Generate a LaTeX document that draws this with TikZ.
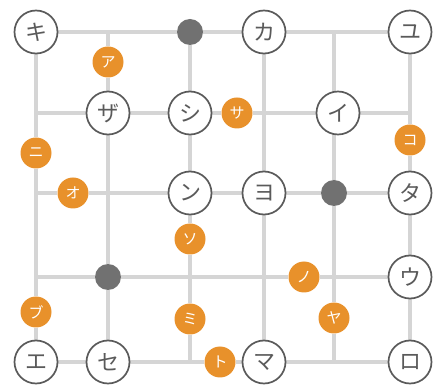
\documentclass[tikz,border=0pt]{standalone}
\usepackage{fontspec}
\newfontfamily\jp{Noto Sans CJK JP}
\usetikzlibrary{backgrounds}
\definecolor{lanegray}{HTML}{D5D5D5}
\definecolor{ringgray}{HTML}{5A5A5A}
\definecolor{hubgray}{HTML}{717171}
\definecolor{tagorange}{HTML}{E8912B}
\begin{document}
\begin{tikzpicture}[
  x=1pt, y=-1pt,
  kana/.style={circle, draw=ringgray, line width=1.7pt, fill=white, minimum size=43pt,
              inner sep=0pt, text=ringgray, font=\jp\fontsize{22}{22}\selectfont},
  tag/.style={circle, fill=tagorange, minimum size=31pt, inner sep=0pt,
              text=white, font=\jp\fontsize{15}{15}\selectfont},
  hub/.style={circle, fill=hubgray, minimum size=26pt, inner sep=0pt},
  lane/.style={draw=lanegray, line width=4pt}
 ]
\useasboundingbox (0,0) rectangle (434,387);
% grid junctions
\coordinate (c2r1) at (108,32);
\coordinate (c5r1) at (334,32);
\coordinate (c1r2) at (36,113);
\coordinate (c4r2) at (264,113);
\coordinate (c6r2) at (410,113);
\coordinate (c1r3) at (36,193);
\coordinate (c2r3) at (108,193);
\coordinate (c1r4) at (36,277);
\coordinate (c3r4) at (190,277);
\coordinate (c4r4) at (264,277);
\coordinate (c5r4) at (334,277);
\coordinate (c3r5) at (190,362);
\coordinate (c5r5) at (334,362);
% stations
\node[kana] (ki)  at (36,32)   {キ};
\node[hub]  (hubA) at (190,32) {};
\node[kana] (ka)  at (264,32)  {カ};
\node[kana] (yu)  at (410,32)  {ユ};
\node[kana] (za)  at (108,113) {ザ};
\node[kana] (shi) at (190,113) {シ};
\node[kana] (i)   at (338,113) {イ};
\node[kana] (n)   at (190,193) {ン};
\node[kana] (yo)  at (264,193) {ヨ};
\node[hub]  (hubB) at (334,193) {};
\node[kana] (ta)  at (410,193) {タ};
\node[hub]  (hubC) at (108,277) {};
\node[kana] (u)   at (410,277) {ウ};
\node[kana] (e)   at (36,362)  {エ};
\node[kana] (se)  at (108,362) {セ};
\node[kana] (ma)  at (264,362) {マ};
\node[kana] (ro)  at (410,362) {ロ};
% orange tags
\node[tag] (a)  at (108,62)  {ア};
\node[tag] (ni) at (36,153)  {ニ};
\node[tag] (o)  at (73,193)  {オ};
\node[tag] (sa) at (237,113) {サ};
\node[tag] (ko) at (410,140) {コ};
\node[tag] (so) at (190,239) {ソ};
\node[tag] (mi) at (190,319) {ミ};
\node[tag] (bu) at (36,312)  {ブ};
\node[tag] (no) at (304,277) {ノ};
\node[tag] (ya) at (334,318) {ヤ};
\node[tag] (to) at (220,362) {ト};
\begin{scope}[on background layer]
\draw[lane] (ki) -- (c2r1) -- (hubA) -- (ka) -- (c5r1) -- (yu);
\draw[lane] (c1r2) -- (za) -- (shi) -- (sa) -- (c4r2) -- (i) -- (c6r2);
\draw[lane] (c1r3) -- (o) -- (c2r3) -- (n) -- (yo) -- (hubB) -- (ta);
\draw[lane] (c1r4) -- (hubC) -- (c3r4) -- (c4r4) -- (no) -- (c5r4) -- (u);
\draw[lane] (e) -- (se) -- (c3r5) -- (to) -- (ma) -- (c5r5) -- (ro);
\draw[lane] (ki) -- (c1r2) -- (ni) -- (c1r3) -- (c1r4) -- (bu) -- (e);
\draw[lane] (c2r1) -- (a) -- (za) -- (c2r3) -- (hubC) -- (se);
\draw[lane] (hubA) -- (shi) -- (n) -- (so) -- (c3r4) -- (mi) -- (c3r5);
\draw[lane] (ka) -- (c4r2) -- (yo) -- (c4r4) -- (ma);
\draw[lane] (c5r1) -- (c5r1 |- i) -- (hubB) -- (c5r4) -- (ya) -- (c5r5);
\draw[lane] (yu) -- (c6r2) -- (ko) -- (ta) -- (u) -- (ro);
\end{scope}
\end{tikzpicture}
\end{document}
